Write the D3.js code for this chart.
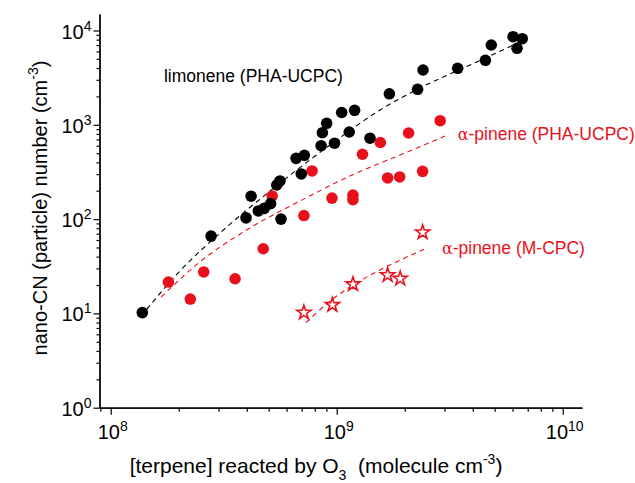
<!DOCTYPE html>
<html lang="en">
<head>
<meta charset="UTF-8">
<script src="https://cdnjs.cloudflare.com/ajax/libs/d3/7.8.5/d3.min.js"></script>
<style>
body{ margin:0; background:#fff; }
text{ font-family:"Liberation Sans", Arial, sans-serif; }
</style>
</head>
<body>
<div id="main-container"></div>
<script type="text/javascript">
/* global d3 */

// limonene (PHA-UCPC), black dots
const limX = [1.38e8, 2.78e8, 3.97e8, 4.18e8, 4.50e8, 4.78e8, 5.10e8, 5.43e8, 5.61e8, 5.67e8,
              6.61e8, 7.19e8, 6.97e8, 8.53e8, 8.64e8, 9.03e8, 9.78e8, 1.052e9, 1.136e9, 1.20e9,
              1.404e9, 1.71e9, 2.28e9, 2.41e9, 3.43e9, 4.55e9, 4.83e9, 6.03e9, 6.62e9, 6.28e9];
const limY = [10.2, 66, 103, 175, 122, 130, 146, 230, 254, 100,
              441, 475, 301, 600, 825, 1037, 638, 1350, 839, 1425,
              721, 2133, 2379, 3811, 3973, 4830, 7020, 8594, 8190, 6477];

// alpha-pinene (PHA-UCPC), red dots
const apX = [1.80e8, 2.25e8, 2.58e8, 3.55e8, 4.73e8, 5.18e8, 7.16e8, 7.78e8, 9.53e8, 1.18e9,
             1.18e9, 1.30e9, 1.56e9, 1.68e9, 1.90e9, 2.08e9, 2.40e9, 2.87e9];
const apY = [21.5, 14.2, 27.5, 23.3, 48.5, 176, 109, 324, 167, 180,
             161, 487, 649, 273, 280, 819, 321, 1105];

// alpha-pinene (M-CPC), red open stars
const mcX = [7.16e8, 9.57e8, 1.18e9, 1.68e9, 1.91e9, 2.40e9];
const mcY = [10.2, 12.3, 20.4, 25.5, 23.4, 72.4];

// dashed fit curves
const limFitX = [1.443e8, 2.026e8, 3.045e8, 5.07e8, 9.34e8, 1.555e9, 2.336e9, 3.89e9, 6.47e9];
const limFitY = [11.05, 28.2, 71.2, 198.6, 611, 1435, 2456, 4306, 7551];
const apFitX = [1.67e8, 2.48e8, 4.13e8, 6.88e8, 1.145e9, 1.906e9, 3.015e9];
const apFitY = [14.9, 35.1, 80.5, 155.6, 286.5, 478, 760];
const mcFitX = [7.31e8, 9.34e8, 1.268e9, 1.721e9, 2.458e9];
const mcFitY = [7.97, 13.5, 22.1, 32.6, 48.2];

// tick labels (powers of ten)
const xTickExps = [8, 9, 10];
const yTickExps = [0, 1, 2, 3, 4];

const labels = [
  {text: 'limonene (PHA-UCPC)', x: 1.72e8, y: 2844, color: '#000', alpha: false},
  {text: '-pinene (PHA-UCPC)', x: 3.43e9, y: 690, color: '#e8111b', alpha: true},
  {text: '-pinene (M-CPC)', x: 2.92e9, y: 42.7, color: '#e8111b', alpha: true}
];

const w = 635, h = 483;
const red = '#e8111b';

const svg = d3.select('#main-container').append('svg')
  .attr('width', w).attr('height', h).style('background-color', '#fff');

const xScale = d3.scaleLog().domain([Math.pow(10, 7.9504), Math.pow(10, 10.0854)]).range([99.5, 582]);
const yScale = d3.scaleLog().domain([1, Math.pow(10, 4.175)]).range([407.7, 14]);

const x0 = xScale.range()[0], y0 = yScale.range()[0];

// minor ticks
const xMinor = [], yMinor = [];
for (let e = 7; e <= 10; e++) for (let m = 2; m <= 9; m++) {
  const v = m * Math.pow(10, e);
  if (v > xScale.domain()[0] && v < xScale.domain()[1]) xMinor.push(v);
}
for (let e = 0; e <= 4; e++) for (let m = 2; m <= 9; m++) {
  const v = m * Math.pow(10, e);
  if (v < yScale.domain()[1]) yMinor.push(v);
}

const styleAxis = g => {
  g.select('.domain').attr('stroke', '#000').attr('stroke-width', 1.3);
  g.selectAll('.tick line').attr('stroke', '#000').attr('stroke-width', 1.2);
};

svg.append('g').attr('transform', 'translate(0,' + y0 + ')')
  .call(d3.axisBottom(xScale).tickValues(xMinor).tickSize(4).tickSizeOuter(0).tickFormat(''))
  .call(styleAxis);
svg.append('g').attr('transform', 'translate(0,' + y0 + ')')
  .call(d3.axisBottom(xScale).tickValues(xTickExps.map(e => Math.pow(10, e))).tickSize(7).tickSizeOuter(0).tickFormat(''))
  .call(styleAxis);
svg.append('g').attr('transform', 'translate(' + x0 + ',0)')
  .call(d3.axisLeft(yScale).tickValues(yMinor).tickSize(3).tickSizeOuter(0).tickFormat(''))
  .call(styleAxis);
svg.append('g').attr('transform', 'translate(' + x0 + ',0)')
  .call(d3.axisLeft(yScale).tickValues(yTickExps.map(e => Math.pow(10, e))).tickSize(6).tickSizeOuter(0).tickFormat(''))
  .call(styleAxis);

// tick labels 10^n
xTickExps.forEach(e => {
  const t = svg.append('text').attr('x', xScale(Math.pow(10, e)) + 2).attr('y', y0 + 31)
    .attr('text-anchor', 'middle').style('font-size', '20px');
  t.append('tspan').text('10');
  t.append('tspan').attr('dy', -8).style('font-size', '14px').text(e);
});
yTickExps.forEach(e => {
  const t = svg.append('text').attr('x', x0 - 8).attr('y', yScale(Math.pow(10, e)) + 8)
    .attr('text-anchor', 'end').style('font-size', '20px');
  t.append('tspan').text('10');
  t.append('tspan').attr('dy', -8).style('font-size', '14px').text(e);
});

// axis titles
const xt = svg.append('text').attr('x', 316).attr('y', 473).attr('text-anchor', 'middle')
  .style('font-size', '21px').attr('xml:space', 'preserve');
xt.append('tspan').text('[terpene] reacted by O');
xt.append('tspan').attr('dy', 7).style('font-size', '14px').text('3');
xt.append('tspan').attr('dy', -7).text('  (molecule cm');
xt.append('tspan').attr('dy', -9).style('font-size', '14px').text('-3');
xt.append('tspan').attr('dy', 9).text(')');

const yt = svg.append('text').attr('transform', 'translate(47,208) rotate(-90)')
  .attr('text-anchor', 'middle').style('font-size', '20px');
yt.append('tspan').text('nano-CN (particle) number (cm');
yt.append('tspan').attr('dy', -9).style('font-size', '14px').text('-3');
yt.append('tspan').attr('dy', 9).text(')');

// fit curves
const line = d3.line().x(d => xScale(d[0])).y(d => yScale(d[1])).curve(d3.curveMonotoneX);
svg.append('path').datum(d3.zip(limFitX, limFitY)).attr('d', line)
  .attr('fill', 'none').attr('stroke', '#000').attr('stroke-width', 1.1).attr('stroke-dasharray', '5,4');
svg.append('path').datum(d3.zip(apFitX, apFitY)).attr('d', line)
  .attr('fill', 'none').attr('stroke', red).attr('stroke-width', 1.1).attr('stroke-dasharray', '5,4');
svg.append('path').datum(d3.zip(mcFitX, mcFitY)).attr('d', line)
  .attr('fill', 'none').attr('stroke', red).attr('stroke-width', 1.1).attr('stroke-dasharray', '5,4');

// points
svg.selectAll('circle.ap').data(d3.zip(apX, apY)).enter().append('circle').attr('class', 'ap')
  .attr('cx', d => xScale(d[0])).attr('cy', d => yScale(d[1])).attr('r', 5.8).attr('fill', red);
svg.selectAll('circle.lim').data(d3.zip(limX, limY)).enter().append('circle').attr('class', 'lim')
  .attr('cx', d => xScale(d[0])).attr('cy', d => yScale(d[1])).attr('r', 5.8).attr('fill', '#000');
svg.selectAll('path.mc').data(d3.zip(mcX, mcY)).enter().append('path').attr('class', 'mc')
  .attr('d', d3.symbol().type(d3.symbolStar).size(62))
  .attr('transform', d => 'translate(' + xScale(d[0]) + ',' + yScale(d[1]) + ')')
  .attr('fill', '#fff').attr('stroke', red).attr('stroke-width', 1.6);

// series labels
labels.forEach(l => {
  const t = svg.append('text').attr('x', xScale(l.x)).attr('y', yScale(l.y))
    .style('font-size', '17.5px').attr('fill', l.color);
  if (l.alpha) t.append('tspan').style('font-family', '"DejaVu Serif", "Liberation Serif", serif').style('font-size', '16px').text('\u03b1');
  t.append('tspan').text(l.text);
});
</script>
</body>
</html>
